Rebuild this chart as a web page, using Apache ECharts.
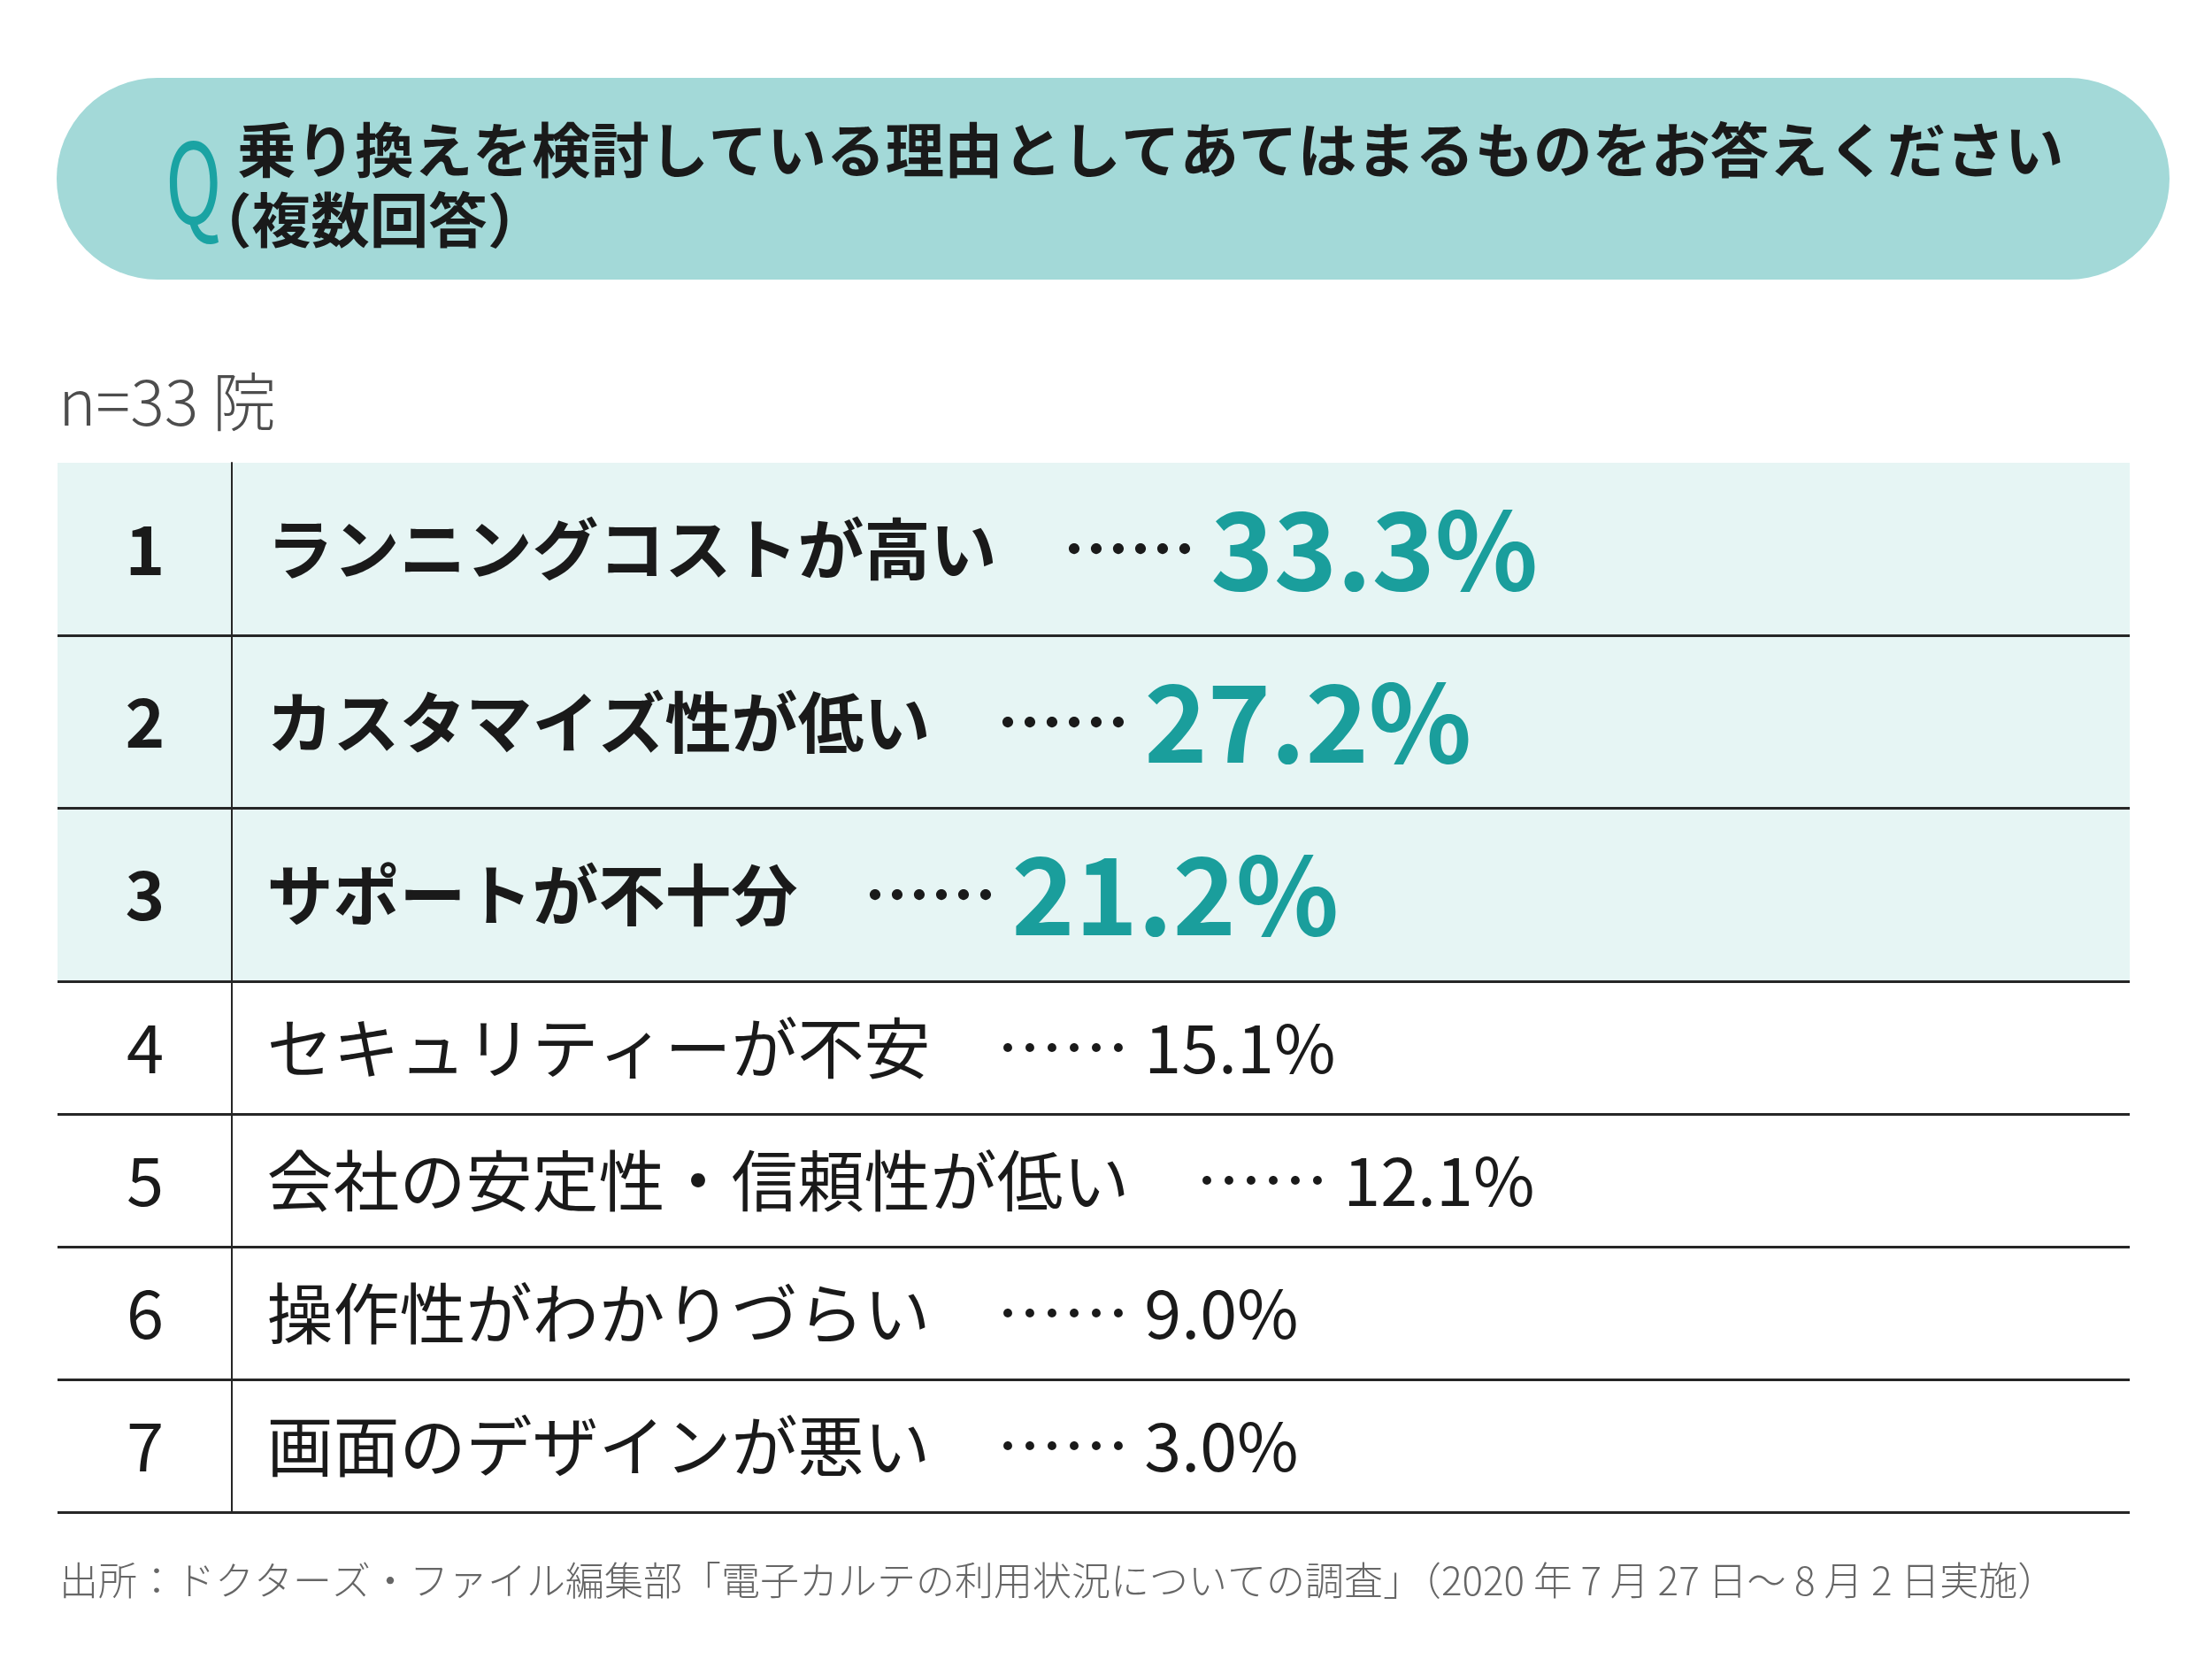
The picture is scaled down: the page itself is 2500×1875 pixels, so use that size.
<!DOCTYPE html>
<html><head><meta charset="utf-8">
<script src="https://cdn.jsdelivr.net/npm/echarts@6/dist/echarts.min.js"></script>
<style>html,body{margin:0;padding:0;background:#fff}#c{width:2500px;height:1875px}</style>
</head><body><div id="c"></div>
<script>
const titleLine1 = '乗り換えを検討している理由としてあてはまるものをお答えください';
const titleLine2 = '（複数回答）';
const sampleNote = 'n=33 院';
const sourceNote = '出所：ドクターズ・ファイル編集部「電子カルテの利用状況についての調査」（2020 年 7 月 27 日〜 8 月 2 日実施）';

const ranksTop = ['1', '2', '3'];
const labelsTop = ['ランニングコストが高い', 'カスタマイズ性が低い', 'サポートが不十分'];
const valuesTop = [33.3, 27.2, 21.2];

const ranksBottom = ['4', '5', '6', '7'];
const labelsBottom = ['セキュリティーが不安', '会社の安定性・信頼性が低い', '操作性がわかりづらい', '画面のデザインが悪い'];
const valuesBottom = [15.1, 12.1, 9.0, 3.0];

const FONT = 'Noto Sans CJK JP';
const TEAL = '#1a9e9c';
const INK = '#1a1a1a';
const LINE = '#262626';
const LABEL_X = 236;

const chart = echarts.init(document.getElementById('c'), null, {renderer: 'canvas'});

function rowSeries(gridIdx, ranks, labels, values, top) {
  return {
    type: 'scatter',
    xAxisIndex: gridIdx, yAxisIndex: gridIdx,
    symbolSize: 1,
    itemStyle: {color: 'rgba(0,0,0,0)', opacity: 1},
    silent: true,
    data: ranks.map((r, i) => ({value: [LABEL_X, r], name: labels[i]})),
    label: {
      show: true, position: 'right', distance: 0, opacity: 1,
      formatter: p => `{lab|${labels[p.dataIndex]}}{lab|　}{dot|……}{sp| }{val|${values[p.dataIndex].toFixed(1)}%}`,
      rich: {
        lab: {fontFamily: FONT, fontSize: 75, fontWeight: top ? 'bold' : 'normal', color: INK},
        dot: {fontFamily: FONT, fontSize: 75, fontWeight: top ? 'bold' : 'normal', color: INK},
        sp: {fontFamily: FONT, fontSize: 75, color: INK},
        val: {fontFamily: FONT, fontSize: top ? 121 : 75.5, fontWeight: top ? 'bold' : 'normal', color: top ? TEAL : INK}
      }
    }
  };
}

function catAxis(gridIdx, ranks, top, colors) {
  return {
    type: 'category', gridIndex: gridIdx, data: ranks, inverse: true,
    position: 'left', offset: -197,
    axisLine: {show: true, lineStyle: {color: LINE, width: 2}},
    axisTick: {show: false},
    axisLabel: {margin: 98, align: 'center', fontFamily: FONT, fontSize: 76,
      fontWeight: top ? 'bold' : 'normal', color: INK},
    splitLine: {show: true, lineStyle: {color: colors, width: 3}}
  };
}

chart.setOption({
  animation: false,
  textStyle: {fontFamily: FONT},
  graphic: [
    {type: 'rect', z: -10, shape: {x: 64, y: 88, width: 2388, height: 228, r: 114}, style: {fill: '#a3d9d8'}},
    {type: 'text', x: 187, y: 142, scaleX: 0.68, style: {text: 'Q', fontFamily: FONT, fontSize: 126, fontWeight: 'normal', fill: '#1aa3a3', textVerticalAlign: 'top'}}
  ],
  title: [
    {text: titleLine1, left: 268, top: 130, padding: 0, textStyle: {fontFamily: FONT, fontSize: 66.6, fontWeight: 'bold', color: INK, lineHeight: 80}},
    {text: titleLine2, left: 218, top: 209, padding: 0, textStyle: {fontFamily: FONT, fontSize: 66.6, fontWeight: 'bold', color: INK, lineHeight: 80}},
    {text: sampleNote, left: 66, top: 412, padding: 0, textStyle: {fontFamily: FONT, fontSize: 72, fontWeight: 300, color: '#4d4d4d', lineHeight: 84}},
    {text: sourceNote, left: 67, top: 1761, padding: 0, textStyle: {fontFamily: FONT, fontSize: 44, fontWeight: 300, color: '#666', lineHeight: 50}}
  ],
  grid: [
    {left: 65, right: 93, top: 523, height: 586, show: true, backgroundColor: '#e6f5f4', borderWidth: 0},
    {left: 65, right: 93, top: 1109, height: 600, show: false}
  ],
  xAxis: [
    {type: 'value', gridIndex: 0, min: 0, max: 2342, show: false},
    {type: 'value', gridIndex: 1, min: 0, max: 2342, show: false}
  ],
  yAxis: [
    catAxis(0, ranksTop, true, ['rgba(0,0,0,0)', LINE, LINE, LINE]),
    catAxis(1, ranksBottom, false, [LINE])
  ],
  series: [
    rowSeries(0, ranksTop, labelsTop, valuesTop, true),
    rowSeries(1, ranksBottom, labelsBottom, valuesBottom, false)
  ]
});
</script></body></html>
